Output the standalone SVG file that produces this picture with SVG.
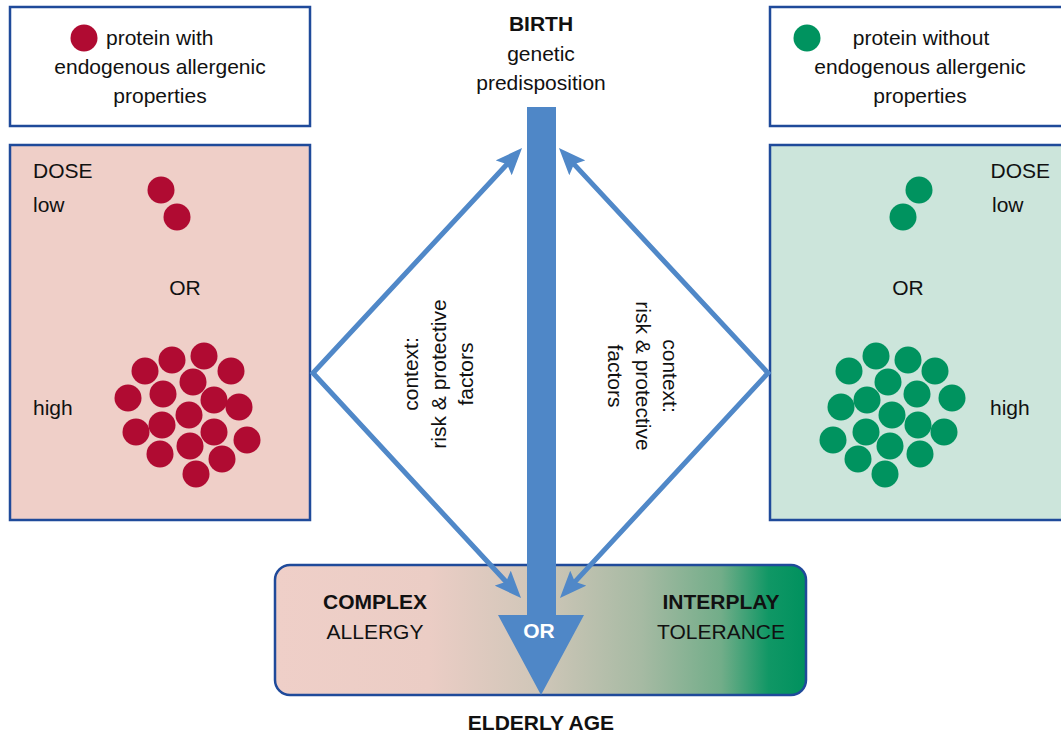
<svg xmlns="http://www.w3.org/2000/svg" width="1061" height="736" viewBox="0 0 1061 736">
<style>
.t{font-family:"Liberation Sans",Arial,sans-serif;font-size:21px;fill:#111}
.b{font-weight:bold}
.m{text-anchor:middle}
.e{text-anchor:end}
.box{fill:#fff;stroke:#1f4a9a;stroke-width:2.5}
.pk{fill:#efcfc8;stroke:#1f4a9a;stroke-width:2.5}
.gn{fill:#cce5db;stroke:#1f4a9a;stroke-width:2.5}
.r{fill:#b00b32}
.g{fill:#00935f}
.ln{fill:none;stroke:#5088c8;stroke-width:5;stroke-linejoin:miter;stroke-miterlimit:20;marker-start:url(#ah);marker-end:url(#ah)}
</style>
<defs>
<marker id="ah" markerUnits="userSpaceOnUse" markerWidth="28" markerHeight="22" viewBox="0 0 28 22" refX="19" refY="11" orient="auto-start-reverse">
<path d="M0,0 L27,11 L0,22 L5,11 Z" fill="#5088c8"/>
</marker>
<linearGradient id="grad" x1="0" y1="0" x2="1" y2="0">
<stop offset="0" stop-color="#efcfc8"/>
<stop offset="0.29" stop-color="#ebcdc5"/>
<stop offset="0.5" stop-color="#cfc6b8"/>
<stop offset="0.69" stop-color="#a6baa3"/>
<stop offset="0.84" stop-color="#72ad89"/>
<stop offset="0.93" stop-color="#109765"/>
<stop offset="1" stop-color="#00915e"/>
</linearGradient>
</defs>

<g id="legend-left">
<rect class="box" x="10" y="7" width="300" height="119"/>
<circle class="r" cx="84" cy="38" r="13.5"/>
<text class="t" x="106" y="45">protein with</text>
<text class="t m" x="160" y="74">endogenous allergenic</text>
<text class="t m" x="160" y="103">properties</text>
</g>

<g id="legend-right">
<rect class="box" x="770" y="7" width="300" height="119"/>
<circle class="g" cx="807" cy="38" r="13.5"/>
<text class="t m" x="921" y="45">protein without</text>
<text class="t m" x="920" y="74">endogenous allergenic</text>
<text class="t m" x="920" y="103">properties</text>
</g>

<g id="panel-left">
<rect class="pk" x="10" y="145" width="300" height="375"/>
<text class="t" x="33" y="178">DOSE</text>
<text class="t" x="33" y="212">low</text>
<text class="t m" x="185" y="295">OR</text>
<text class="t" x="33" y="415">high</text>
<circle class="r" cx="161" cy="190" r="13.5"/>
<circle class="r" cx="177" cy="217" r="13.5"/>
<g class="r">
<circle cx="145" cy="371" r="13.5"/>
<circle cx="172" cy="360" r="13.5"/>
<circle cx="204" cy="356" r="13.5"/>
<circle cx="231" cy="371" r="13.5"/>
<circle cx="128" cy="398" r="13.5"/>
<circle cx="163" cy="394" r="13.5"/>
<circle cx="193" cy="382" r="13.5"/>
<circle cx="214" cy="400" r="13.5"/>
<circle cx="239" cy="407" r="13.5"/>
<circle cx="189" cy="415" r="13.5"/>
<circle cx="136" cy="432" r="13.5"/>
<circle cx="162" cy="425" r="13.5"/>
<circle cx="214" cy="432" r="13.5"/>
<circle cx="247" cy="440" r="13.5"/>
<circle cx="160" cy="454" r="13.5"/>
<circle cx="190" cy="446" r="13.5"/>
<circle cx="222" cy="459" r="13.5"/>
<circle cx="196" cy="474" r="13.5"/>
</g>
</g>

<g id="panel-right">
<rect class="gn" x="770" y="145" width="300" height="375"/>
<text class="t e" x="1050" y="178">DOSE</text>
<text class="t" x="992" y="212">low</text>
<text class="t m" x="908" y="295">OR</text>
<text class="t" x="990" y="415">high</text>
<circle class="g" cx="919" cy="190" r="13.5"/>
<circle class="g" cx="903" cy="217" r="13.5"/>
<g class="g">
<circle cx="849" cy="371" r="13.5"/>
<circle cx="876" cy="356" r="13.5"/>
<circle cx="908" cy="360" r="13.5"/>
<circle cx="935" cy="371" r="13.5"/>
<circle cx="888" cy="382" r="13.5"/>
<circle cx="841" cy="407" r="13.5"/>
<circle cx="867" cy="400" r="13.5"/>
<circle cx="917" cy="394" r="13.5"/>
<circle cx="952" cy="398" r="13.5"/>
<circle cx="892" cy="415" r="13.5"/>
<circle cx="918" cy="425" r="13.5"/>
<circle cx="944" cy="432" r="13.5"/>
<circle cx="833" cy="440" r="13.5"/>
<circle cx="866" cy="432" r="13.5"/>
<circle cx="890" cy="446" r="13.5"/>
<circle cx="858" cy="459" r="13.5"/>
<circle cx="920" cy="454" r="13.5"/>
<circle cx="885" cy="474" r="13.5"/>
</g>
</g>

<g id="outcome">
<rect x="275" y="565" width="531" height="130" rx="15" fill="url(#grad)" stroke="#1f4a9a" stroke-width="2.5"/>
<text class="t b m" x="375" y="609">COMPLEX</text>
<text class="t m" x="375" y="639">ALLERGY</text>
<text class="t b m" x="721" y="609">INTERPLAY</text>
<text class="t m" x="721" y="639">TOLERANCE</text>
</g>

<g id="timeline">
<text class="t b m" x="541" y="31">BIRTH</text>
<text class="t m" x="541" y="61">genetic</text>
<text class="t m" x="541" y="90">predisposition</text>
<path d="M527,107 H556 V615 H584 L541,695 L498,615 H527 Z" fill="#4f87c7"/>
<text class="t b m" x="539" y="638" style="fill:#fff">OR</text>
<text class="t b m" x="541" y="730">ELDERLY AGE</text>
</g>

<g id="connectors">
<path class="ln" d="M516.6,153.9 L313,373 L515.6,592.1"/>
<path class="ln" d="M564.4,153.9 L768,373 L565.4,592.1"/>
</g>

<g id="context-left">
<g transform="translate(0,374) rotate(-90)">
<text class="t m" x="0" y="418">context:</text>
<text class="t m" x="0" y="445.5">risk &amp; protective</text>
<text class="t m" x="0" y="473">factors</text>
</g>
</g>

<g id="context-right">
<g transform="translate(0,376) rotate(90)">
<text class="t m" x="0" y="-663">context:</text>
<text class="t m" x="0" y="-635.5">risk &amp; protective</text>
<text class="t m" x="0" y="-608">factors</text>
</g>
</g>
</svg>
